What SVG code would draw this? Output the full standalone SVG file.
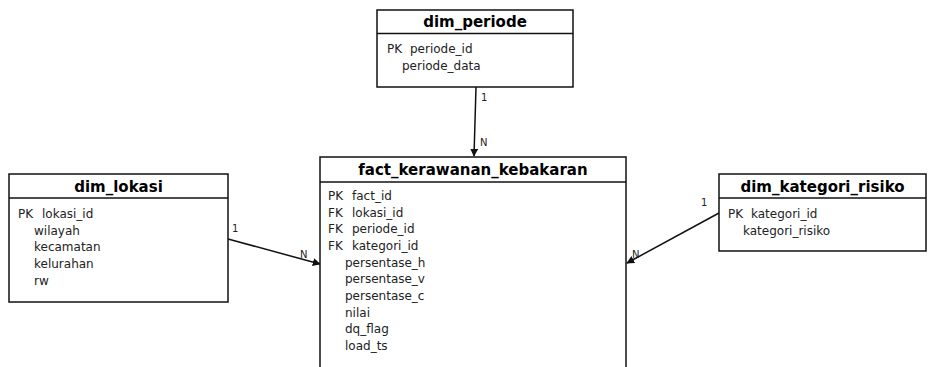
<svg xmlns="http://www.w3.org/2000/svg" width="928" height="367" viewBox="0 0 928 367">
<style>
.box{fill:#fff;stroke:#111;stroke-width:1.5}
.sep{stroke:#111;stroke-width:1.5}
.title{font-family:"DejaVu Sans",sans-serif;font-size:15px;font-weight:bold;fill:#000;text-anchor:middle}
.row{font-family:"DejaVu Sans",sans-serif;font-size:12px;fill:#222}
.lbl{font-family:"DejaVu Sans",sans-serif;font-size:10px;fill:#222}
.edge{stroke:#111;stroke-width:1.5;fill:none;marker-end:url(#arr)}
</style>
<defs>
<marker id="arr" viewBox="0 0 10 10" refX="9" refY="5" markerWidth="8" markerHeight="8" markerUnits="userSpaceOnUse" orient="auto">
<path d="M0,0 L10,5 L0,10 z" fill="#111"/>
</marker>
</defs>
<g id="connectors">
<line class="edge" x1="476" y1="87" x2="474" y2="156"/>
<text class="lbl" x="481" y="101">1</text>
<text class="lbl" x="480" y="146">N</text>
<line class="edge" x1="228" y1="239" x2="320" y2="264"/>
<text class="lbl" x="232" y="232">1</text>
<text class="lbl" x="300" y="258">N</text>
<line class="edge" x1="719" y1="213" x2="627" y2="263"/>
<text class="lbl" x="701" y="206">1</text>
<text class="lbl" x="632" y="258">N</text>
</g>
<g id="dim_periode">
<rect class="box" x="377" y="10" width="196" height="77"/>
<line class="sep" x1="377" y1="33.5" x2="573" y2="33.5"/>
<text class="title" x="475" y="27">dim_periode</text>
<text class="row" x="387" y="53">PK</text><text class="row" x="410" y="53">periode_id</text>
<text class="row" x="402" y="70">periode_data</text>
</g>
<g id="fact_kerawanan_kebakaran">
<rect class="box" x="320" y="157" width="306" height="220"/>
<line class="sep" x1="320" y1="182" x2="626" y2="182"/>
<text class="title" x="473" y="175">fact_kerawanan_kebakaran</text>
<text class="row" x="328" y="200">PK</text><text class="row" x="352" y="200">fact_id</text>
<text class="row" x="328" y="216.7">FK</text><text class="row" x="352" y="216.7">lokasi_id</text>
<text class="row" x="328" y="233.3">FK</text><text class="row" x="352" y="233.3">periode_id</text>
<text class="row" x="328" y="250">FK</text><text class="row" x="352" y="250">kategori_id</text>
<text class="row" x="345" y="266.7">persentase_h</text>
<text class="row" x="345" y="283.3">persentase_v</text>
<text class="row" x="345" y="300">persentase_c</text>
<text class="row" x="345" y="316.7">nilai</text>
<text class="row" x="345" y="333.3">dq_flag</text>
<text class="row" x="345" y="350">load_ts</text>
</g>
<g id="dim_lokasi">
<rect class="box" x="9" y="174" width="219" height="128"/>
<line class="sep" x1="9" y1="198" x2="228" y2="198"/>
<text class="title" x="118.5" y="192">dim_lokasi</text>
<text class="row" x="18" y="218">PK</text><text class="row" x="42" y="218">lokasi_id</text>
<text class="row" x="34" y="234.7">wilayah</text>
<text class="row" x="34" y="251.3">kecamatan</text>
<text class="row" x="34" y="268">kelurahan</text>
<text class="row" x="34" y="284.7">rw</text>
</g>
<g id="dim_kategori_risiko">
<rect class="box" x="719" y="174" width="207" height="77"/>
<line class="sep" x1="719" y1="198" x2="926" y2="198"/>
<text class="title" x="822.5" y="192">dim_kategori_risiko</text>
<text class="row" x="728" y="218">PK</text><text class="row" x="751" y="218">kategori_id</text>
<text class="row" x="743" y="234.7">kategori_risiko</text>
</g>
</svg>
